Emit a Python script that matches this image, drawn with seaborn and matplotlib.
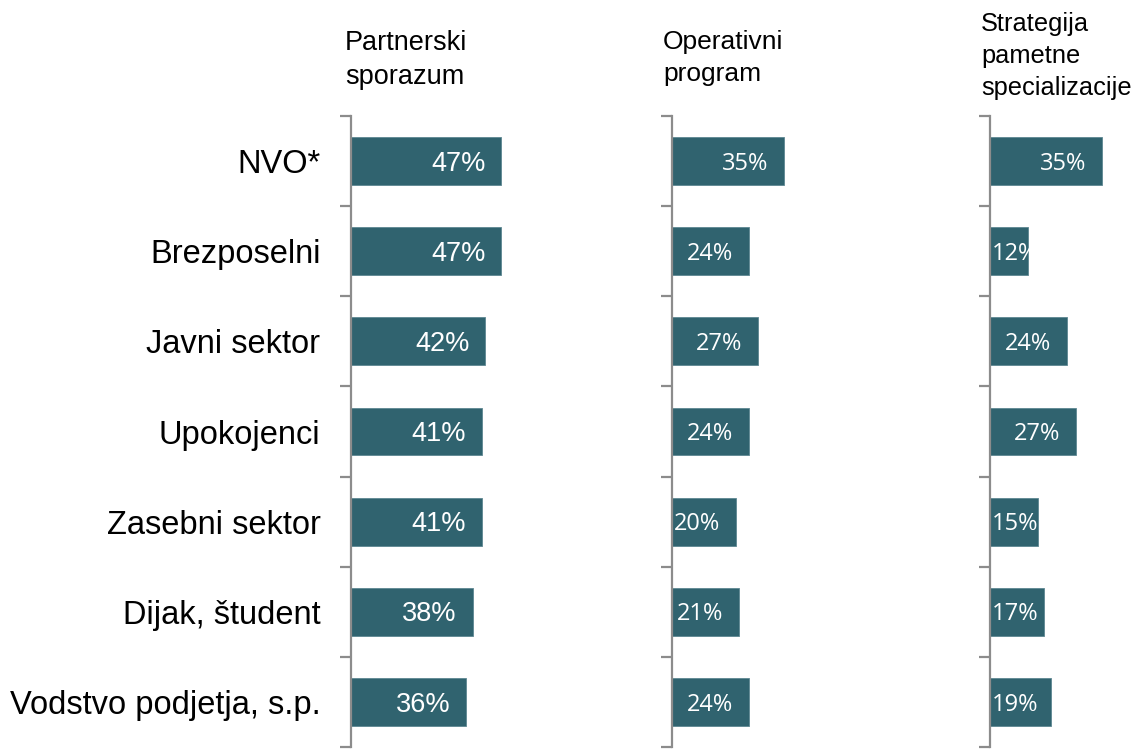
import matplotlib
matplotlib.use("Agg")
import matplotlib.pyplot as plt
import seaborn as sns
import pandas as pd

categories = ["NVO*", "Brezposelni", "Javni sektor", "Upokojenci",
              "Zasebni sektor", "Dijak, študent", "Vodstvo podjetja, s.p."]
partnerski = [47, 47, 42, 41, 41, 38, 36]
operativni = [35, 24, 27, 24, 20, 21, 24]
strategija = [35, 12, 24, 27, 15, 17, 19]
titles = ["Partnerski\nsporazum", "Operativni\nprogram",
          "Strategija\npametne\nspecializacije"]

bar_color = "#30636f"
axis_color = "#8c8c8c"

sns.set_theme(style="white")
plt.rcParams["font.family"] = ["Liberation Sans", "DejaVu Sans"]

fig = plt.figure(figsize=(11.38, 7.49), dpi=100)

# panel layout in pixels (left edge of axis, top of header)
lefts = [351, 672, 990]
title_x = [345, 663, 981]
title_top = [30, 30, 12]
title_size = [19.5, 19, 18.3]
px_per_unit = 3.2
ax_w = 50 * px_per_unit
ax_top, ax_bot = 116, 747

series = [partnerski, operativni, strategija]
label_fonts = [("Liberation Sans", 19.5), ("Open Sans", 17), ("Open Sans", 17)]

axes = []
for i, vals in enumerate(series):
    ax = fig.add_axes([lefts[i] / 1138, 1 - ax_bot / 749,
                       ax_w / 1138, (ax_bot - ax_top) / 749])
    df = pd.DataFrame({"kategorija": categories, "delez": vals})
    sns.barplot(data=df, x="delez", y="kategorija", ax=ax, color=bar_color,
                saturation=1, width=0.53, orient="h",
                edgecolor="#5d8792", linewidth=0.6)
    ax.set_xlim(0, 50)
    ax.set_ylim(len(categories) - 0.5, -0.5)
    ax.set_xlabel("")
    ax.set_ylabel("")
    ax.set_xticks([])
    for s in ["top", "right", "bottom"]:
        ax.spines[s].set_visible(False)
    ax.spines["left"].set_color(axis_color)
    ax.spines["left"].set_linewidth(1.6)
    ax.set_yticks([k - 0.5 for k in range(len(categories) + 1)], minor=True)
    ax.tick_params(axis="y", which="minor", length=8, width=1.6,
                   color=axis_color, left=True)
    ax.tick_params(axis="y", which="major", length=0)
    ax.set_yticks(range(len(categories)))
    if i == 0:
        ax.set_yticklabels(categories, fontsize=23.5, color="#000000")
        ax.tick_params(axis="y", which="major", pad=22)
    else:
        ax.set_yticklabels([])
    fig.text(title_x[i] / 1138, 1 - title_top[i] / 749, titles[i],
             ha="left", va="top", fontsize=title_size[i], color="#000000",
             linespacing=1.42)
    axes.append(ax)

fig.canvas.draw()
renderer = fig.canvas.get_renderer()
offset = 16 / px_per_unit
for i, vals in enumerate(series):
    ax = axes[i]
    fam, size = label_fonts[i]
    for j, v in enumerate(vals):
        bar = ax.patches[j]
        t = ax.text(v - offset, j + 0.03, f"{v}%", ha="right", va="center",
                    color="white", fontsize=size, family=fam)
        bb = t.get_window_extent(renderer)
        ax_left = ax.transData.transform((0, 0))[0]
        if bb.x0 < ax_left + 2:
            t.set_x(0.5)
            t.set_ha("left")
        t.set_clip_path(bar)

fig.savefig("out.png", dpi=100)
